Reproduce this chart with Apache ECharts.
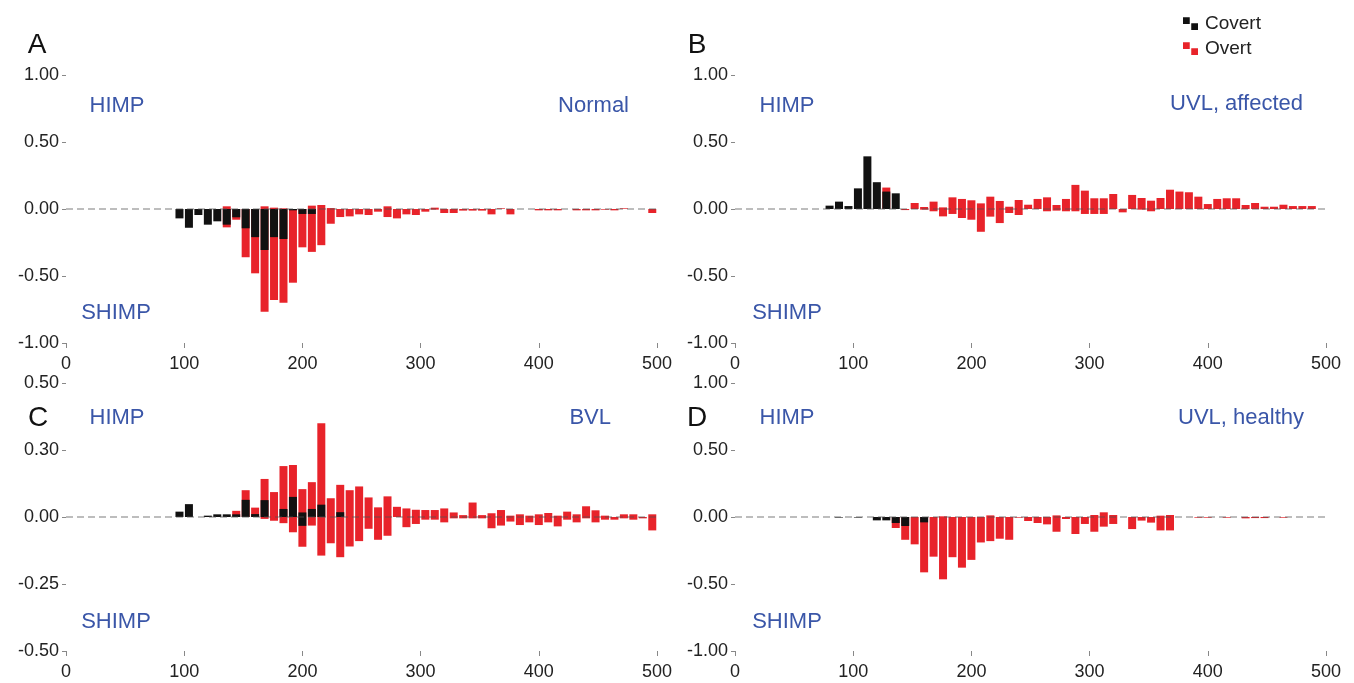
<!DOCTYPE html>
<html>
<head>
<meta charset="utf-8">
<script src="https://cdn.jsdelivr.net/npm/echarts@6/dist/echarts.min.js"></script>
<style>
html,body{margin:0;padding:0;background:#fff;}
#chart{width:1354px;height:683px;}
</style>
</head>
<body>
<div id="chart"></div>
<script>
// ---- bins (ms) ----
const bins = [0,8,16,24,32,40,48,56,64,72,80,88,96,104,112,120,128,136,144,152,160,168,176,184,192,200,208,216,224,232,240,248,256,264,272,280,288,296,304,312,320,328,336,344,352,360,368,376,384,392,400,408,416,424,432,440,448,456,464,472,480,488,496];

// ---- ticks ----
const xTicks = [0,100,200,300,400,500];
const yTicksAB = ['-1.00','-0.50','0.00','0.50','1.00'];
const yTicksC = ['-0.50','-0.25','0.00','0.30','0.50'];
const yTicksD = ['-1.00','-0.50','0.00','0.50','1.00'];

// ---- Panel A : Normal ----
const A_overtPos = [
 0,0,0,0,0,0,0,0,0,0,
 0,0,0,0,0,0,0,0.02,0,0,
 0,0.02,0.01,0.005,0,0,0.025,0.03,0.007,0,
 0,0,0,0,0.02,0,0,0,0,0.01,
 0,0,0,0,0,0,0.005,0,0,0,
 0,0,0,0,0,0,0,0,0,0.005,
 0,0,0];
const A_overtNeg = [
 0,0,0,0,0,0,0,0,0,0,
 0,0,0,0,0,0,0,-0.137,-0.08,-0.36,
 -0.48,-0.766,-0.68,-0.70,-0.55,-0.286,-0.32,-0.27,-0.11,-0.06,
 -0.055,-0.04,-0.045,-0.02,-0.06,-0.07,-0.04,-0.045,-0.02,-0.005,
 -0.03,-0.03,-0.012,-0.012,-0.012,-0.04,0,-0.04,0,0,
 -0.01,-0.01,-0.01,0,-0.01,-0.01,-0.01,-0.005,-0.01,0,
 0,0,-0.03];
const A_covertPos = [
 0,0,0,0,0,0,0,0,0,0,
 0,0,0,0,0,0,0,0,0,0,
 0,0,0,0,0,0,0,0,0,0,
 0,0,0,0,0,0,0,0,0,0,
 0,0,0,0,0,0,0,0,0,0,
 0,0,0,0,0,0,0,0,0,0,
 0,0,0];
const A_covertNeg = [
 0,0,0,0,0,0,0,0,0,0,
 0,0,-0.07,-0.14,-0.045,-0.117,-0.092,-0.117,-0.062,-0.144,
 -0.21,-0.306,-0.21,-0.224,-0.01,-0.037,-0.037,0,0,0,
 0,0,0,0,0,0,0,0,0,0,
 0,0,0,0,0,0,0,0,0,0,
 0,0,0,0,0,0,0,0,0,0,
 0,0,0];

// ---- Panel B : UVL, affected ----
const B_overtPos = [
 0,0,0,0,0,0,0,0,0,0,
 0,0,0,0,0,0,0.16,0,0,0.045,
 0.015,0.055,0.012,0.087,0.075,0.065,0.042,0.092,0.06,0.017,
 0.067,0.032,0.075,0.087,0.03,0.075,0.18,0.137,0.08,0.08,
 0.112,0,0.105,0.082,0.062,0.082,0.144,0.13,0.125,0.092,
 0.037,0.075,0.08,0.08,0.03,0.045,0.017,0.017,0.032,0.022,
 0.022,0.022,0];
const B_overtNeg = [
 0,0,0,0,0,0,0,0,0,0,
 0,0,0,0,0,0,0,0,-0.008,0,
 -0.005,-0.017,-0.055,-0.037,-0.067,-0.08,-0.17,-0.057,-0.105,-0.03,
 -0.045,0,0,-0.017,-0.012,-0.017,-0.017,-0.037,-0.037,-0.037,
 0,-0.025,0,-0.005,-0.017,0,0,0,0,0,
 0,0,0,0,0,0,0,0,0,0,
 0,0,0];
const B_covertPos = [
 0,0,0,0,0,0,0,0,0,0,
 0.025,0.055,0.022,0.154,0.393,0.20,0.13,0.117,0,0,
 0,0,0,0,0,0,0,0,0,0,
 0,0,0,0,0,0,0,0,0,0,
 0,0,0,0,0,0,0,0,0,0,
 0,0,0,0,0,0,0,0,0,0,
 0,0,0];
const B_covertNeg = [
 0,0,0,0,0,0,0,0,0,0,
 0,0,0,0,0,0,0,0,0,0,
 0,0,0,0,0,0,0,0,0,0,
 0,0,0,0,0,0,0,0,0,0,
 0,0,0,0,0,0,0,0,0,0,
 0,0,0,0,0,0,0,0,0,0,
 0,0,0];

// ---- Panel C : BVL ----
const C_overtPos = [
 0,0,0,0,0,0,0,0,0,0,
 0,0,0,0,0,0,0,0,0.023,0.10,
 0.035,0.142,0.093,0.19,0.194,0.104,0.13,0.35,0.07,0.12,
 0.10,0.114,0.073,0.036,0.077,0.038,0.032,0.027,0.026,0.026,
 0.032,0.017,0.007,0.054,0.007,0.014,0.026,0.005,0.01,0.005,
 0.01,0.015,0.005,0.02,0.01,0.04,0.025,0.005,0,0.01,
 0.01,0,0.01];
const C_overtNeg = [
 0,0,0,0,0,0,0,0,0,0,
 0,0,0,0,0,0,0,0,0,0,
 0,-0.007,-0.014,-0.023,-0.057,-0.111,-0.032,-0.144,-0.098,-0.15,
 -0.11,-0.09,-0.044,-0.085,-0.07,0,-0.038,-0.026,-0.01,-0.01,
 -0.02,-0.005,-0.005,-0.005,-0.005,-0.042,-0.032,-0.017,-0.03,-0.02,
 -0.03,-0.02,-0.035,-0.01,-0.02,-0.005,-0.02,-0.01,-0.01,-0.005,
 -0.01,-0.005,-0.05];
const C_covertPos = [
 0,0,0,0,0,0,0,0,0,0,
 0,0,0.02,0.048,0,0.005,0.01,0.01,0.01,0.064,
 0.011,0.063,0,0.03,0.075,0.017,0.03,0.046,0,0.018,
 0,0,0,0,0,0,0,0,0,0,
 0,0,0,0,0,0,0,0,0,0,
 0,0,0,0,0,0,0,0,0,0,
 0,0,0];
const C_covertNeg = [
 0,0,0,0,0,0,0,0,0,0,
 0,0,0,0,0,0,0,0,0,0,
 0,0,0,0,0,-0.033,0,0,0,0,
 0,0,0,0,0,0,0,0,0,0,
 0,0,0,0,0,0,0,0,0,0,
 0,0,0,0,0,0,0,0,0,0,
 0,0,0];

// ---- Panel D : UVL, healthy ----
const D_overtPos = [
 0,0,0,0,0,0,0,0,0,0,
 0,0,0,0,0,0,0,0,0,0,
 0,0,0.005,0,0,0,0,0.012,0,0,
 0,0,0,0,0.012,0,0,0,0.015,0.035,
 0.015,0,0,0,0,0.01,0.015,0,0,0,
 0,0,0,0,0,0,0,0,0,0,
 0,0,0];
const D_overtNeg = [
 0,0,0,0,0,0,0,0,0,0,
 0,0,0,0,0,0,0,-0.082,-0.17,-0.204,
 -0.413,-0.296,-0.465,-0.3,-0.378,-0.32,-0.19,-0.18,-0.162,-0.17,
 -0.005,-0.03,-0.045,-0.055,-0.11,-0.015,-0.127,-0.052,-0.11,-0.072,
 -0.052,0,-0.09,-0.027,-0.042,-0.1,-0.1,0,0,-0.005,
 -0.005,0,-0.005,0,-0.01,-0.008,-0.008,0,-0.005,0,
 0,0,0];
const D_covertPos = [
 0,0,0,0,0,0,0,0,0,0,
 0,0,0,0,0,0,0,0,0,0,
 0,0,0,0,0,0,0,0,0,0,
 0,0,0,0,0,0,0,0,0,0,
 0,0,0,0,0,0,0,0,0,0,
 0,0,0,0,0,0,0,0,0,0,
 0,0,0];
const D_covertNeg = [
 0,0,0,0,0,0,0,0,0,0,
 0,-0.004,0,-0.004,0,-0.025,-0.025,-0.045,-0.067,0,
 -0.04,0,0,0,0,0,0,0,0,0,
 0,0,0,0,0,0,0,0,0,0,
 0,0,0,0,0,0,0,0,0,0,
 0,0,0,0,0,0,0,0,0,0,
 0,0,0];

// ---- styling ----
const RED = '#e8232a';
const BLACK = '#111111';
const BLUE = '#3a56a8';
const FONT = '"Liberation Sans", Arial, sans-serif';
const iconPath = 'path://M0,0H9V9H0Z M11,8H20V17H11Z';

const grids = [
  {left:66, top:75, width:591, height:268},
  {left:735, top:75, width:591, height:268},
  {left:66, top:383, width:591, height:268},
  {left:735, top:383, width:591, height:268}
];

const yCfg = [
  {min:-1, max:1, interval:0.5, labels:yTicksAB},
  {min:-1, max:1, interval:0.5, labels:yTicksAB},
  {min:-0.5, max:0.5, interval:0.25, labels:yTicksC},
  {min:-1, max:1, interval:0.5, labels:yTicksD}
];

const xAxes = grids.map((g,i)=>({
  type:'value', gridIndex:i, min:xTicks[0], max:xTicks[xTicks.length-1], interval:100,
  axisLine:{show:false, onZero:false}, splitLine:{show:false},
  axisTick:{show:true, length:5, lineStyle:{color:'#888'}},
  axisLabel:{fontSize:18, color:'#222', fontFamily:FONT, margin:12,
    formatter:(v)=> xTicks.indexOf(v)>=0 ? String(v) : ''}
}));

const yAxes = yCfg.map((c,i)=>({
  type:'value', gridIndex:i, min:c.min, max:c.max, interval:c.interval,
  axisLine:{show:false, onZero:false}, splitLine:{show:false},
  axisTick:{show:true, length:4, lineStyle:{color:'#888'}},
  axisLabel:{fontSize:18, color:'#222', fontFamily:FONT, margin:7,
    formatter:(v)=>{ const idx = Math.round((v - c.min)/c.interval); return c.labels[idx] || ''; }}
}));

const panels = [
  [A_overtPos, A_overtNeg, A_covertPos, A_covertNeg],
  [B_overtPos, B_overtNeg, B_covertPos, B_covertNeg],
  [C_overtPos, C_overtNeg, C_covertPos, C_covertNeg],
  [D_overtPos, D_overtNeg, D_covertPos, D_covertNeg]
];

const series = [];
panels.forEach((p,gi)=>{
  const defs = [['Overt',RED,p[0]],['Overt',RED,p[1]],['Covert',BLACK,p[2]],['Covert',BLACK,p[3]]];
  defs.forEach((d,j)=>{
    const s = {
      type:'bar', name:d[0], xAxisIndex:gi, yAxisIndex:gi,
      barWidth:8, barGap:'-100%',
      itemStyle:{color:d[1]},
      data: bins.map((b,k)=>[b, d[2][k]]),
      silent:true
    };
    if (j===3) {
      s.markLine = {
        silent:true, symbol:['none','none'], label:{show:false},
        lineStyle:{type:[7,4], color:'rgba(80,80,80,0.5)', width:1.5},
        data:[{yAxis:0}]
      };
    }
    series.push(s);
  });
});

const txt = (x,y,text,opts)=>Object.assign({
  type:'text', x:x, y:y, silent:true,
  style:Object.assign({text:text, fill:BLUE, fontSize:22, fontFamily:FONT, align:'center', verticalAlign:'middle'}, opts||{})
});

const graphic = [
  txt(37,45,'A',{fill:'#111',fontSize:28}),
  txt(697,45,'B',{fill:'#111',fontSize:28}),
  txt(38,418,'C',{fill:'#111',fontSize:28}),
  txt(697,418,'D',{fill:'#111',fontSize:28}),
  txt(117,106,'HIMP'), txt(629,106,'Normal',{align:'right'}), txt(116,313,'SHIMP'),
  txt(787,106,'HIMP'), txt(1303,104,'UVL, affected',{align:'right'}), txt(787,313,'SHIMP'),
  txt(117,418,'HIMP'), txt(611,418,'BVL',{align:'right'}), txt(116,622,'SHIMP'),
  txt(787,418,'HIMP'), txt(1304,418,'UVL, healthy',{align:'right'}), txt(787,622,'SHIMP')
];

const chart = echarts.init(document.getElementById('chart'), null, {renderer:'canvas'});
chart.setOption({
  animation:false,
  backgroundColor:'#fff',
  grid:grids,
  xAxis:xAxes,
  yAxis:yAxes,
  legend:{
    orient:'vertical', left:1178, top:9, itemGap:6, itemWidth:15, itemHeight:13,
    textStyle:{fontSize:19, color:'#222', fontFamily:FONT, padding:[0,0,0,2]},
    data:[{name:'Covert', icon:iconPath, itemStyle:{color:BLACK}},
          {name:'Overt', icon:iconPath, itemStyle:{color:RED}}],
    selectedMode:false
  },
  graphic:graphic,
  series:series
});
</script>
</body>
</html>
